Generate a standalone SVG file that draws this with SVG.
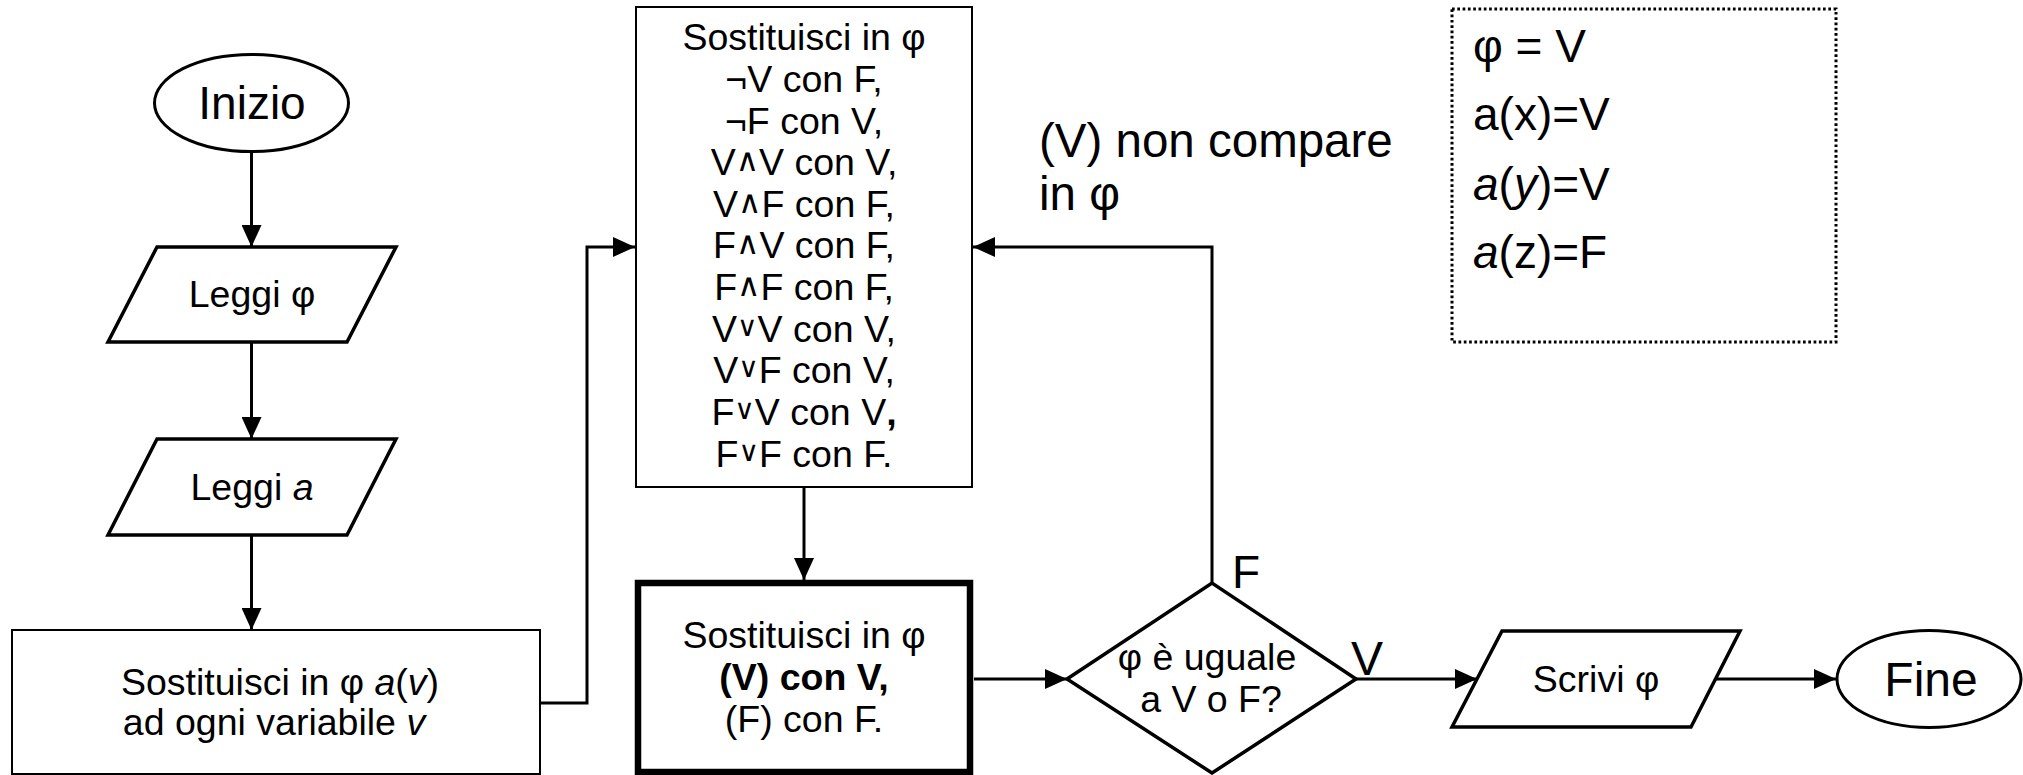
<svg xmlns="http://www.w3.org/2000/svg" width="2023" height="775" viewBox="0 0 2023 775">
<style>
text{font-family:"Liberation Sans",Arial,sans-serif;fill:#000}
.m{font-size:37.5px;text-anchor:middle}
.b{font-size:46px}
.c{text-anchor:middle}
.sym{font-family:"DejaVu Sans",sans-serif}
.and{font-size:32px}
.or{font-size:28px}
.n{fill:#fff;stroke:#000;stroke-width:3.5;stroke-linejoin:miter}
.r{fill:#fff;stroke:#000;stroke-width:2}
.e{fill:#fff;stroke:#000;stroke-width:3}
.k{fill:none;stroke:#000;stroke-width:3;marker-end:url(#ah)}
</style>
<defs>
<marker id="ah" markerUnits="userSpaceOnUse" markerWidth="22" markerHeight="20" refX="22" refY="10" orient="auto" viewBox="0 0 22 20">
<path d="M0,0 L22,10 L0,20 Z" fill="#000"/>
</marker>
</defs>
<rect width="2023" height="775" fill="#fff"/>

<g id="connectors">
<path class="k" d="M251.5,151.5 V247"/>
<path class="k" d="M251.5,342 V439"/>
<path class="k" d="M251.5,535 V630"/>
<path class="k" d="M540,703 H587 V247 H635"/>
<path class="k" d="M804,487 V580"/>
<path class="k" d="M974,679 H1067"/>
<path class="k" d="M1212,583 V247 H973"/>
<path class="k" d="M1356,679 H1477"/>
<path class="k" d="M1716,679 H1836"/>
</g>

<g id="inizio">
<ellipse class="e" cx="251.5" cy="103" rx="97" ry="48.5"/>
<text class="b c" x="252" y="119">Inizio</text>
</g>

<g id="leggi-phi">
<polygon class="n" points="157,247 396,247 347,342 108,342"/>
<text class="m" x="252" y="307">Leggi φ</text>
</g>

<g id="leggi-a">
<polygon class="n" points="157,439 396,439 347,535 108,535"/>
<text class="m" x="252" y="500">Leggi <tspan font-style="italic">a</tspan></text>
</g>

<g id="sostituisci-a">
<rect class="r" x="12" y="630" width="528" height="144"/>
<text class="m" x="280" y="695">Sostituisci in φ <tspan font-style="italic">a</tspan>(<tspan font-style="italic">v</tspan>)</text>
<text class="m" x="274" y="735">ad ogni variabile <tspan font-style="italic">v</tspan></text>
</g>

<g id="regole">
<rect class="r" x="636" y="7" width="336" height="480"/>
<text class="m" x="804" y="50">Sostituisci in φ</text>
<text class="m" x="804" y="92">¬V con F,</text>
<text class="m" x="804" y="134">¬F con V,</text>
<text class="m" x="804" y="175">V<tspan class="sym and" dy="-4">∧</tspan><tspan dy="4">V con V,</tspan></text>
<text class="m" x="804" y="217">V<tspan class="sym and" dy="-4">∧</tspan><tspan dy="4">F con F,</tspan></text>
<text class="m" x="804" y="258">F<tspan class="sym and" dy="-4">∧</tspan><tspan dy="4">V con F,</tspan></text>
<text class="m" x="804" y="300">F<tspan class="sym and" dy="-4">∧</tspan><tspan dy="4">F con F,</tspan></text>
<text class="m" x="804" y="342">V<tspan class="sym or" dy="-6">∨</tspan><tspan dy="6">V con V,</tspan></text>
<text class="m" x="804" y="383">V<tspan class="sym or" dy="-6">∨</tspan><tspan dy="6">F con V,</tspan></text>
<text class="m" x="804" y="425">F<tspan class="sym or" dy="-6">∨</tspan><tspan dy="6">V con V</tspan><tspan font-weight="bold">,</tspan></text>
<text class="m" x="804" y="467">F<tspan class="sym or" dy="-6">∨</tspan><tspan dy="6">F con F.</tspan></text>
</g>

<g id="sostituisci-v">
<rect x="638" y="583" width="332" height="189" fill="#fff" stroke="#000" stroke-width="6.5"/>
<text class="m" x="804" y="648">Sostituisci in φ</text>
<text class="m" x="804" y="690" font-weight="bold">(V) con V,</text>
<text class="m" x="804" y="732">(F) con F.</text>
</g>

<g id="decisione">
<polygon class="n" points="1067,679 1212,583 1356,679 1212,773"/>
<text class="m" x="1207" y="670">φ è uguale</text>
<text class="m" x="1211" y="712">a V o F?</text>
</g>

<g id="etichette">
<text x="1232" y="588" font-size="46">F</text>
<text x="1351" y="675" font-size="48">V</text>
<text x="1039" y="157" font-size="47.5">(V) non compare</text>
<text x="1039" y="210" font-size="47.5">in φ</text>
</g>

<g id="assegnamento">
<rect x="1452" y="9" width="384" height="333" fill="none" stroke="#000" stroke-width="3" stroke-dasharray="2.7 2.6"/>
<text class="b" x="1473" y="62">φ = V</text>
<text class="b" x="1473" y="130">a(x)=V</text>
<text class="b" x="1473" y="200"><tspan font-style="italic">a</tspan>(<tspan font-style="italic">y</tspan>)=V</text>
<text class="b" x="1473" y="268"><tspan font-style="italic">a</tspan>(z)=F</text>
</g>

<g id="scrivi">
<polygon class="n" points="1502,631 1740,631 1691,727 1452,727"/>
<text class="m" x="1596" y="692">Scrivi φ</text>
</g>

<g id="fine">
<ellipse class="e" cx="1929" cy="679" rx="92" ry="48.5"/>
<text class="c" x="1931" y="696" font-size="48">Fine</text>
</g>
</svg>
